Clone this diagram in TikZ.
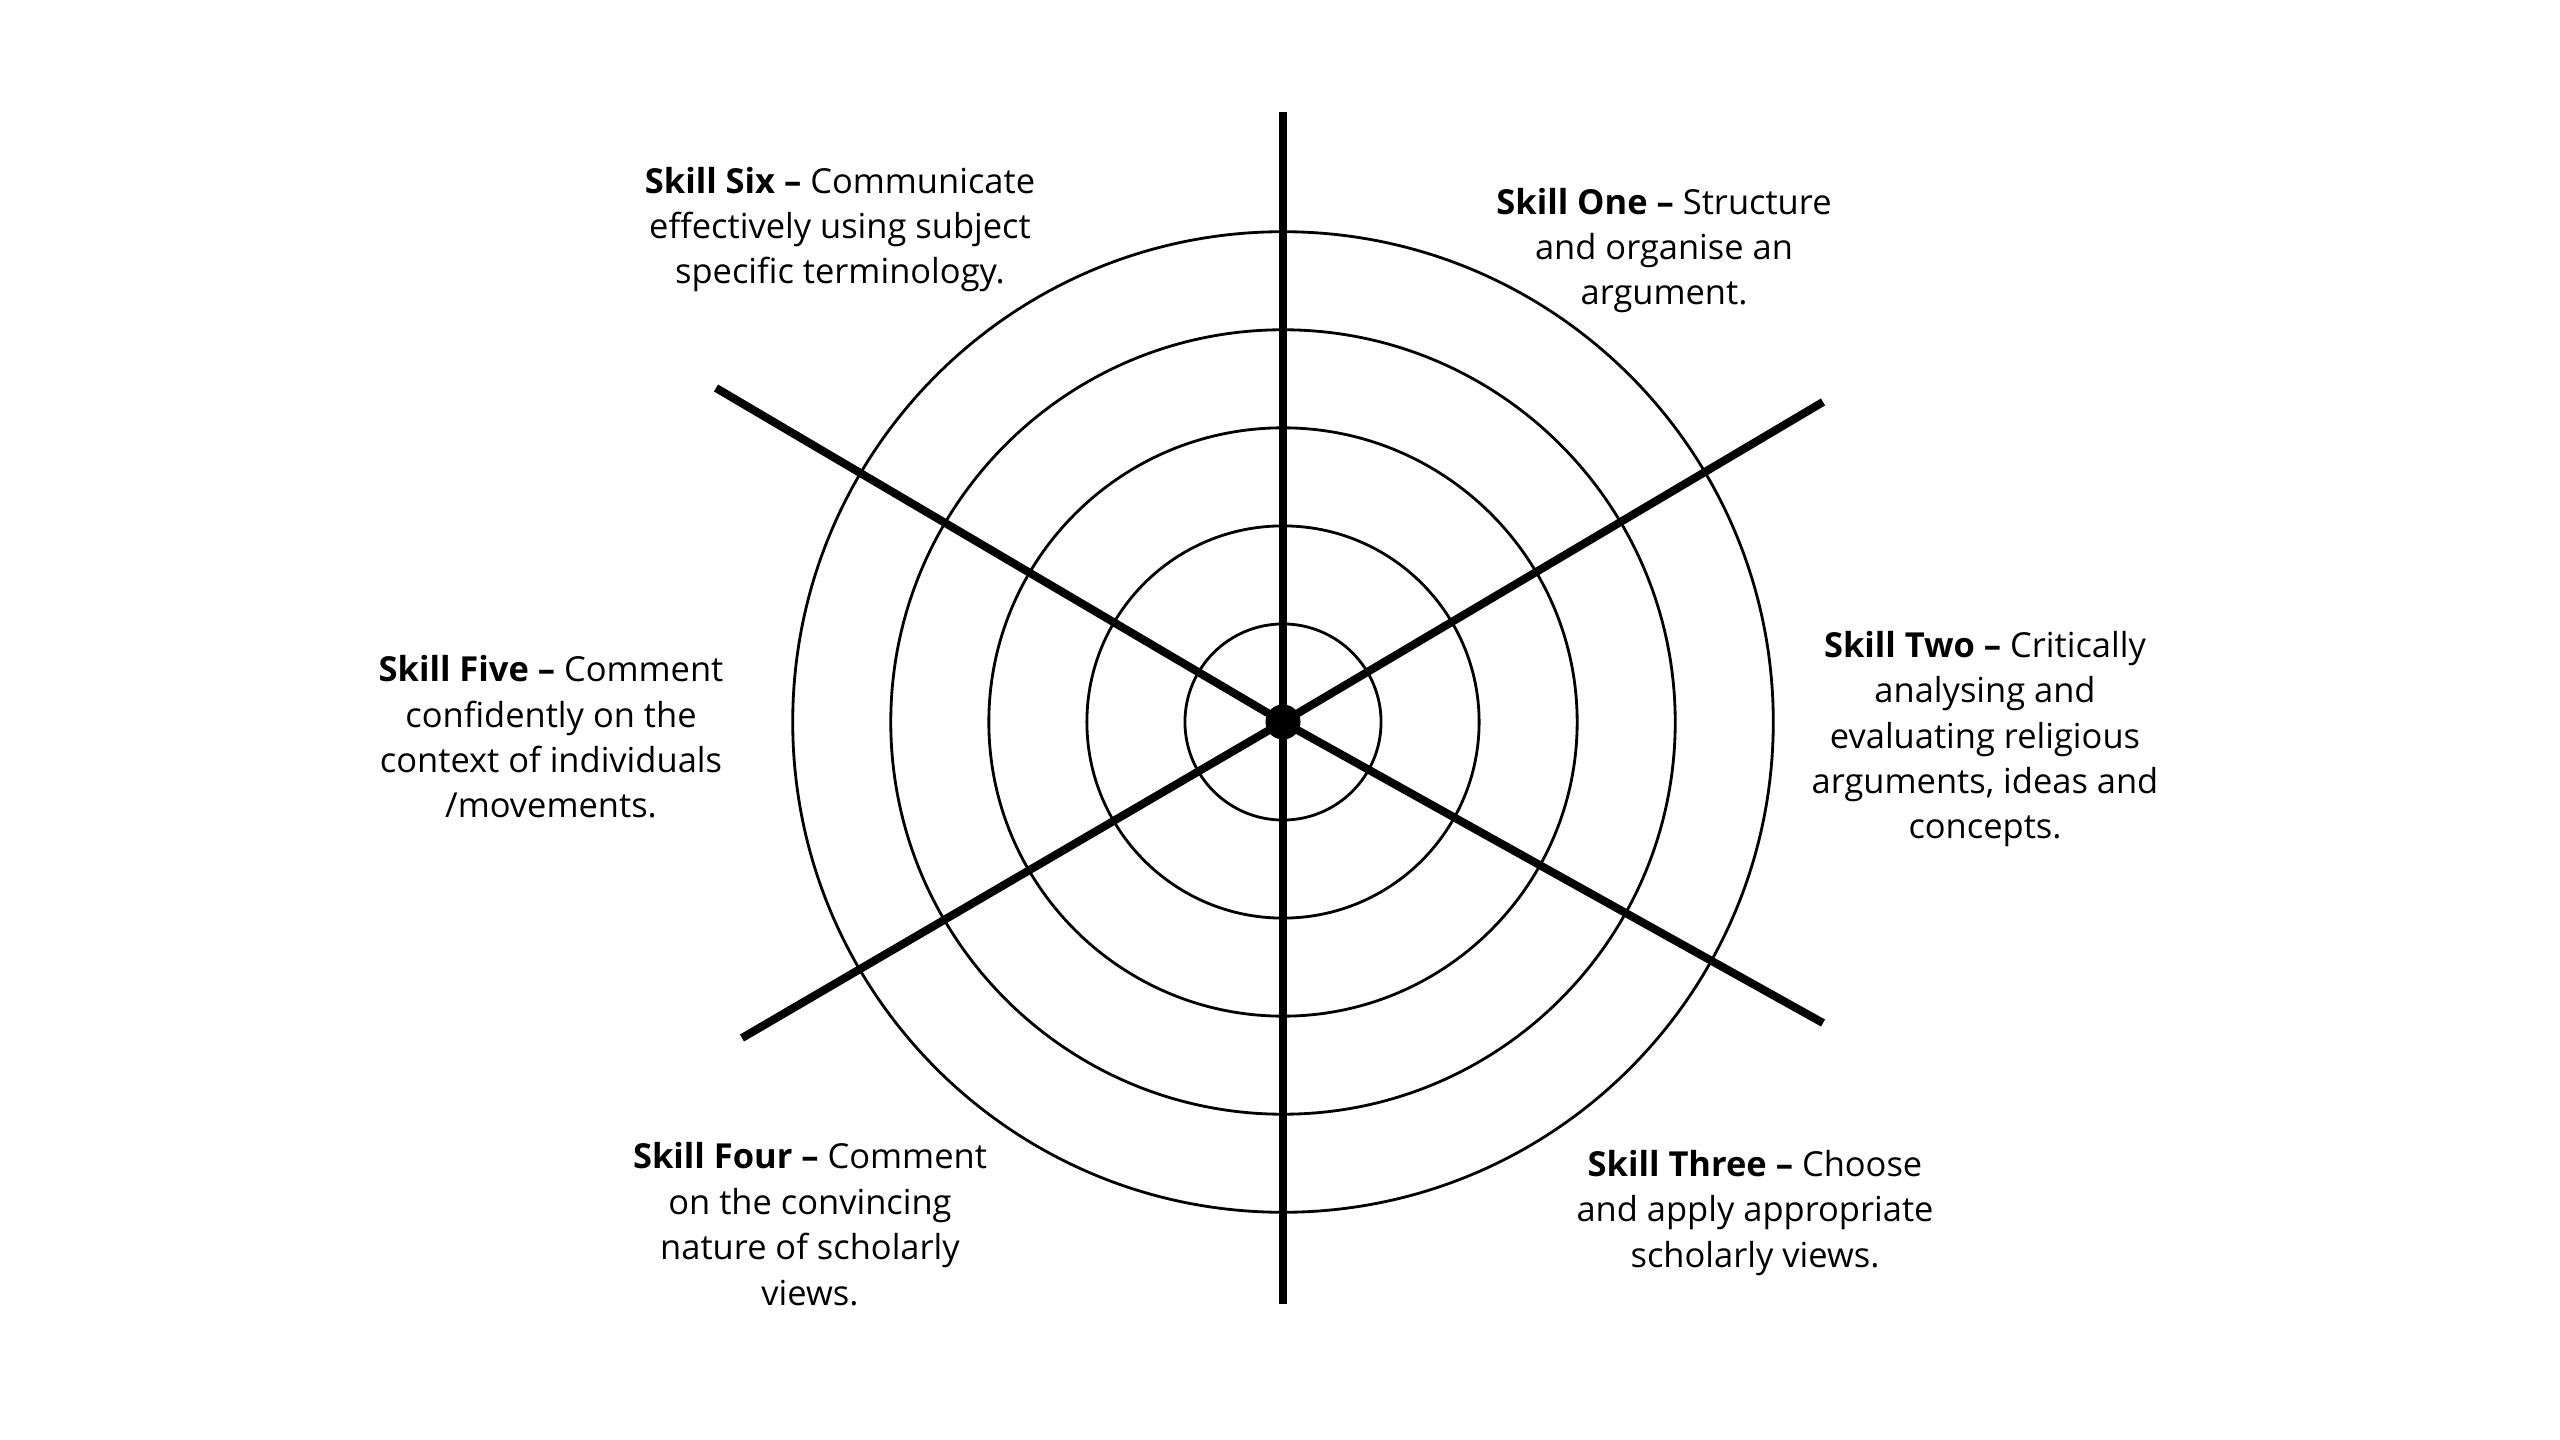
\documentclass[tikz,border=0pt]{standalone}
\usepackage{fontspec}
\setmainfont{Open Sans}
\begin{document}
\begin{tikzpicture}[x=0.01cm,y=-0.01cm,
  ring/.style={line width=0.8pt,draw=black},
  spoke/.style={line width=2.3pt,draw=black},
  lbl/.style={align=center,anchor=base,inner sep=0pt,text=black,
    font=\fontsize{9.8pt}{12.9pt}\selectfont}]
\useasboundingbox[fill=white] (0,0) rectangle (2560,1440);
\coordinate (c) at (1283,722);
\foreach \r in {0.98,1.96,2.94,3.92,4.90}
  \draw[ring] (c) circle[radius=\r cm];
\coordinate (top) at (1283,112);
\coordinate (bot) at (1283,1304);
\coordinate (ul) at (716,388);
\coordinate (lr) at (1823,1023);
\coordinate (ur) at (1823,402);
\coordinate (ll) at (742,1038);
\draw[spoke] (top) -- (bot);
\draw[spoke] (c) -- (ul);
\draw[spoke] (c) -- (lr);
\draw[spoke] (c) -- (ur);
\draw[spoke] (c) -- (ll);
\node[circle,fill=black,minimum size=0.35cm,inner sep=0pt] (dot) at (c) {};
\node[lbl] (six) at (840,284) {\textbf{Skill Six –} Communicate\\effectively using subject\\specific terminology.};
\node[lbl] (one) at (1664,305) {\textbf{Skill One –} Structure\\and organise an\\argument.};
\node[lbl] (two) at (1985,839) {\textbf{Skill Two –} Critically\\analysing and\\evaluating religious\\arguments, ideas and\\concepts.};
\node[lbl] (five) at (551,818) {\textbf{Skill Five –} Comment\\confidently on the\\context of individuals\\/movements.};
\node[lbl] (four) at (810,1305) {\textbf{Skill Four –} Comment\\on the convincing\\nature of scholarly\\views.};
\node[lbl] (three) at (1755,1267) {\textbf{Skill Three –} Choose\\and apply appropriate\\scholarly views.};
\end{tikzpicture}
\end{document}
